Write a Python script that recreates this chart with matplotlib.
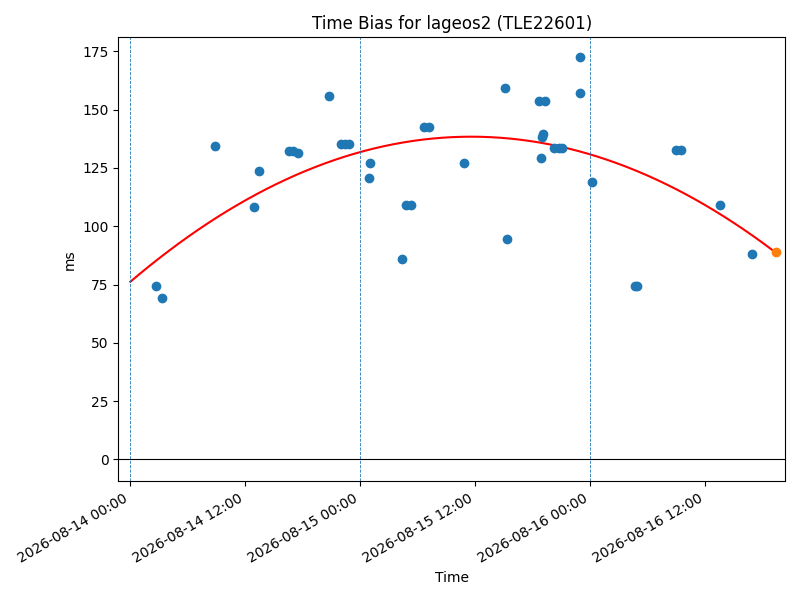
import matplotlib
matplotlib.use("Agg")
import matplotlib.pyplot as plt
import matplotlib.dates as mdates
import numpy as np
import datetime as dt

t0 = dt.datetime(2026, 8, 14)
hours = [2.72, 3.35, 8.8, 12.9, 13.4, 16.6, 17.0, 17.5, 20.7, 22.0, 22.4, 22.8, 24.9, 25.0,
         28.3, 28.8, 29.3, 30.6, 31.2, 34.8, 39.1, 39.3, 42.6, 42.8, 42.9, 43.1, 43.3, 44.2,
         44.7, 45.0, 46.9, 46.9, 48.2, 52.6, 52.9, 56.9, 57.4, 61.5, 64.9]
bias = [74.5, 69.4, 134.5, 108.1, 123.9, 132.4, 132.4, 131.5, 155.8, 135.4, 135.4, 135.4, 120.9, 127.3,
        86.0, 109.0, 109.0, 142.6, 142.6, 127.3, 159.2, 94.5, 153.7, 129.4, 138.4, 139.6, 153.7, 133.7,
        133.7, 133.7, 172.4, 157.1, 118.8, 74.5, 74.5, 132.8, 132.8, 109.0, 88.1]
last_hour, last_bias = 67.4, 89.0
curve_hours = [0.0, 35.6, 67.4]
curve_vals = [76.2, 138.4, 88.5]

coef = np.polyfit(curve_hours, curve_vals, 2)
ch = np.linspace(0, last_hour, 200)
cv = np.polyval(coef, ch)

def todt(h):
    return [t0 + dt.timedelta(hours=float(x)) for x in h]

fig, ax = plt.subplots(figsize=(8, 6), dpi=100)
ax.scatter(todt(hours), bias, color='C0', zorder=3)
ax.scatter(todt([last_hour]), [last_bias], color='C1', zorder=3)
ax.plot(todt(ch), cv, color='red')
for d in range(3):
    ax.axvline(t0 + dt.timedelta(days=d), color='C0', linestyle='--', linewidth=0.6)
ax.axhline(0, color='black', linewidth=0.8)
ax.set_xlim(t0 - dt.timedelta(hours=1.25), t0 + dt.timedelta(hours=68.3))
ax.set_ylim(-9.4, 181)
ax.xaxis.set_major_locator(mdates.HourLocator(byhour=[0, 12]))
ax.xaxis.set_major_formatter(mdates.DateFormatter('%Y-%m-%d %H:%M'))
fig.autofmt_xdate()
ax.set_xlabel('Time')
ax.set_ylabel('ms')
ax.set_title('Time Bias for lageos2 (TLE22601)')
fig.tight_layout()
fig.savefig('out.png')
